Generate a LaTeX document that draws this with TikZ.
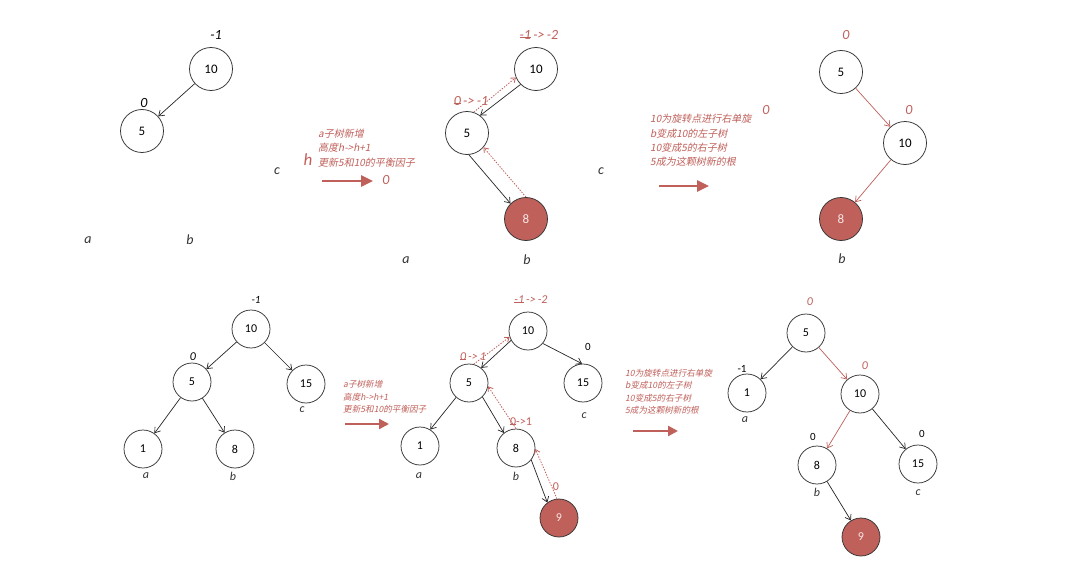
\documentclass[tikz,border=0pt]{standalone}
\usepackage{fontspec}
\setmainfont{Carlito}
\newfontfamily\cjk{Noto Sans CJK SC}[FakeSlant=0.2]
\usetikzlibrary{arrows.meta}
\definecolor{avlred}{HTML}{C0605A}
\newcommand\strk[1]{\setbox0\hbox{#1}\rlap{\rule[0.32ex]{\wd0}{0.5pt}}\box0}

\tikzset{
  big/.style={circle, draw=black!80, line width=0.75pt, minimum size=43pt, inner sep=0pt, font=\fontsize{13}{15}\selectfont},
  small/.style={big, minimum size=38pt, font=\fontsize{12}{14}\selectfont},
  hot/.style={fill=avlred, text=white!85!avlred},
  edge/.style={-{Straight Barb[length=5pt,width=7pt]}, line width=0.7pt, black!85},
  redge/.style={edge, avlred},
  back/.style={-{Straight Barb[length=4pt,width=6pt]}, dash pattern=on 1.4pt off 1.4pt, line width=0.8pt, avlred},
  lbl/.style={font=\fontsize{14}{16}\selectfont\itshape, text=black!80},
  slbl/.style={lbl, font=\fontsize{12}{14}\selectfont\itshape},
  bf/.style={font=\fontsize{14}{16}\selectfont\itshape, text=black},
  rbf/.style={bf, text=avlred},
  sbf/.style={font=\fontsize{11}{13}\selectfont, text=black},
  rsbf/.style={font=\fontsize{12}{14}\selectfont\itshape, text=avlred},
  note/.style={font=\cjk\fontsize{10}{14.3}\selectfont, text=avlred, align=left, anchor=west, inner sep=0pt},
  snote/.style={note, font=\cjk\fontsize{8.6}{12.5}\selectfont},
  bigarrow/.style={-{Triangle[length=12pt,width=11pt]}, line width=2.5pt, avlred},
  sbigarrow/.style={-{Triangle[length=10pt,width=10pt]}, line width=2.2pt, avlred},
}

\begin{document}
\begin{tikzpicture}[x=1pt, y=-1pt]

  \fill[white] (0,0) rectangle (1082,578);

  %% ---- top row: tree 1 ----
  \node[big] (t1a) at (211,69) {10};
  \node[big] (t1b) at (142,131) {5};
  \draw[edge] (t1a) -- (t1b);
  \node[bf] (t1la) at (216,35) {-1};
  \node[bf] (t1lb) at (144,103) {0};
  \node[lbl] (t1sa) at (88,240) {a};
  \node[lbl] (t1sb) at (190,240) {b};
  \node[lbl] (t1sc) at (277,171) {c};

  %% ---- note 1 ----
  \node[note] (n1) at (318,148) {a子树新增\\高度h->h+1\\更新5和10的平衡因子};
  \node[rbf, font=\fontsize{17}{19}\selectfont\itshape] (n1h) at (308,160) {h};
  \coordinate (a1s) at (322,181);
  \coordinate (a1e) at (373,181);
  \draw[bigarrow] (a1s) -- (a1e);
  \node[rbf] (n1z) at (386,180) {0};

  %% ---- top row: tree 2 ----
  \node[big] (t2a) at (536,69) {10};
  \node[big] (t2b) at (467,133) {5};
  \node[big, hot] (t2c) at (526,219) {8};
  \draw[edge] (t2a.225) -- (t2b.53);
  \draw[edge] (t2b.-85) -- (t2c.135);
  \draw[back] (t2c.90) -- (t2b.-41);
  \draw[back] (t2b.72) -- (t2a.203);
  \node[rbf] (t2la) at (539,35) {\strk{-1}\,->\,-2};
  \node[rbf] (t2lb) at (471,101) {\strk{0}\,->\,-1};
  \node[lbl] (t2sa) at (406,260) {a};
  \node[lbl] (t2sb) at (527,260) {b};

  %% ---- note 2 ----
  \node[note] (n2) at (650,140.5) {10为旋转点进行右单旋\\b变成10的左子树\\10变成5的右子树\\5成为这颗树新的根};
  \node[rbf] (n2z) at (766,110) {0};
  \node[lbl] (n2c) at (601,171) {c};
  \coordinate (a2s) at (659,186);
  \coordinate (a2e) at (709,186);
  \draw[bigarrow] (a2s) -- (a2e);

  %% ---- top row: tree 3 ----
  \node[big] (t3a) at (841,72) {5};
  \node[big] (t3b) at (905,143) {10};
  \node[big, hot] (t3c) at (841,219) {8};
  \draw[redge] (t3a) -- (t3b);
  \draw[redge] (t3b) -- (t3c);
  \node[rbf] (t3la) at (846,35) {0};
  \node[rbf] (t3lb) at (909,110) {0};
  \node[lbl] (t3sb) at (842,259) {b};

  %% ---- bottom row: tree 4 ----
  \node[small] (t4a) at (251,329) {10};
  \node[small] (t4b) at (192,382) {5};
  \node[small] (t4c) at (306,384) {15};
  \node[small] (t4d) at (143,449) {1};
  \node[small] (t4e) at (235,449) {8};
  \foreach \u/\v in {t4a/t4b, t4a/t4c, t4b/t4d, t4b/t4e}
    \draw[edge] (\u) -- (\v);
  \node[sbf, font=\fontsize{11}{13}\selectfont\itshape] (t4la) at (256,300) {-1};
  \node[sbf, font=\fontsize{12}{14}\selectfont\itshape] (t4lb) at (193,357) {0};
  \node[slbl] (t4sa) at (146,476) {a};
  \node[slbl] (t4sb) at (233,476) {b};
  \node[slbl] (t4sc) at (302,410) {c};

  %% ---- note 3 ----
  \node[snote] (n3) at (343,397) {a子树新增\\高度h->h+1\\更新5和10的平衡因子};
  \coordinate (a3s) at (345,424);
  \coordinate (a3e) at (389,424);
  \draw[sbigarrow] (a3s) -- (a3e);

  %% ---- bottom row: tree 5 ----
  \node[small] (t5a) at (528,331) {10};
  \node[small] (t5b) at (469,383) {5};
  \node[small] (t5c) at (583,383) {15};
  \node[small] (t5d) at (420,446) {1};
  \node[small] (t5e) at (516,448) {8};
  \node[small, hot] (t5f) at (559,518) {9};
  \draw[edge] (t5a.209) -- (t5b.51);
  \draw[edge] (t5a.-40) -- (t5c.93);
  \draw[edge] (t5b.228) -- (t5d.58);
  \draw[edge] (t5b.-46) -- (t5e.129);
  \draw[edge] (t5e.-38) -- (t5f.127);
  \draw[back] (t5f.96) -- (t5e.-3);
  \draw[back] (t5e.90) -- (t5b.-10);
  \draw[back] (t5b.76) -- (t5a.198);
  \node[rsbf] (t5la) at (531,300) {\strk{-1}\,->\,-2};
  \node[rsbf] (t5lb) at (473,357) {\strk{0}\,->\,1};
  \node[sbf] (t5lc) at (588,347) {0};
  \node[rsbf, font=\fontsize{12}{14}\selectfont] (t5le) at (521,422) {\strk{0}->1};
  \node[rsbf, font=\fontsize{12}{14}\selectfont] (t5lf) at (556,487) {0};
  \node[slbl] (t5sa) at (419,476) {a};
  \node[slbl] (t5sb) at (516,476) {b};
  \node[slbl] (t5sc) at (584,416) {c};

  %% ---- note 4 ----
  \node[snote] (n4) at (625,392) {10为旋转点进行右单旋\\b变成10的左子树\\10变成5的右子树\\5成为这颗树新的根};
  \coordinate (a4s) at (633,431);
  \coordinate (a4e) at (678,431);
  \draw[sbigarrow] (a4s) -- (a4e);

  %% ---- bottom row: tree 6 ----
  \node[small] (t6a) at (806,333) {5};
  \node[small] (t6b) at (747,393) {1};
  \node[small] (t6c) at (860,394) {10};
  \node[small] (t6d) at (817,465) {8};
  \node[small] (t6e) at (918,464) {15};
  \node[small, hot] (t6f) at (861,537) {9};
  \draw[edge] (t6a) -- (t6b);
  \draw[redge] (t6a) -- (t6c);
  \draw[redge] (t6c) -- (t6d);
  \draw[edge] (t6c) -- (t6e);
  \draw[edge] (t6d) -- (t6f);
  \node[rsbf] (t6la) at (810,302) {0};
  \node[sbf] (t6lb) at (742,369) {-1};
  \node[rsbf] (t6lc) at (865,366) {0};
  \node[sbf] (t6ld) at (813,437) {0};
  \node[sbf] (t6le) at (922,434) {0};
  \node[slbl] (t6sa) at (745,420) {a};
  \node[slbl] (t6sb) at (817,492) {b};
  \node[slbl] (t6sc) at (918,493) {c};

  \pgfresetboundingbox
  \path[use as bounding box] (0,0) rectangle (1082,578);
\end{tikzpicture}
\end{document}
